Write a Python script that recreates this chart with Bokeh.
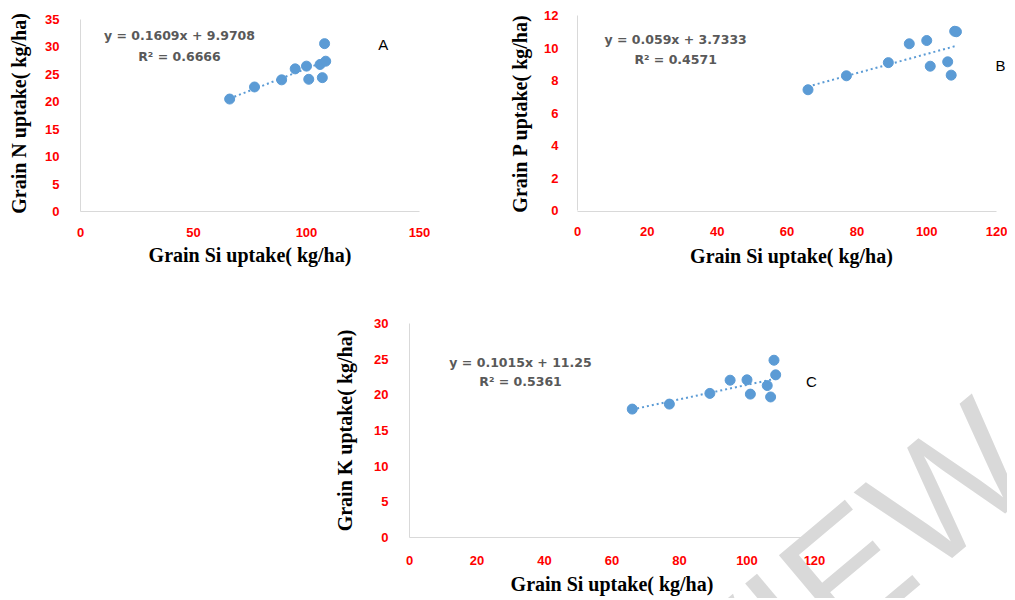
from bokeh.plotting import figure
from bokeh.models import Range1d, FixedTicker, Label
from bokeh.layouts import column, row
from bokeh.embed import file_html
from bokeh.resources import INLINE

# ---------------- data ----------------
si_uptake = [66, 77, 89, 95, 100, 101, 106, 107, 108, 108.5]
n_uptake = [20.5, 22.7, 24.0, 26.0, 26.5, 24.1, 26.8, 24.4, 30.6, 27.4]
p_uptake = [7.43, 8.29, 9.1, 10.26, 10.46, 8.88, 9.15, 8.33, 11.03, 11.0]
k_uptake = [18.0, 18.7, 20.2, 22.05, 22.1, 20.1, 21.3, 19.7, 24.85, 22.8]

trend_slope = [0.1609, 0.059, 0.1015]
trend_intercept = [9.9708, 3.7333, 11.25]
r_squared = ["0.6666", "0.4571", "0.5361"]
panel_letters = ["A", "B", "C"]
y_titles = ["Grain N uptake( kg/ha)", "Grain P uptake( kg/ha)", "Grain K uptake( kg/ha)"]
x_title = "Grain Si uptake( kg/ha)"
x_ticks_a = [0, 50, 100, 150]
x_ticks_bc = [0, 20, 40, 60, 80, 100, 120]
y_ticks_a = [0, 5, 10, 15, 20, 25, 30, 35]
y_ticks_b = [0, 2, 4, 6, 8, 10, 12]
y_ticks_c = [0, 5, 10, 15, 20, 25, 30]

BLUE = "#5b9bd5"


def panel(yvals, idx, xticks, yticks, xr, yr, fw, fh, bl, br, bt, bb,
          eq_xy, r2_xy, letter_xy, xlab_so, xtitle_so, ylab_so, ytitle_so):
    p = figure(frame_width=fw, frame_height=fh,
               min_border_left=bl, min_border_right=br,
               min_border_top=bt, min_border_bottom=bb,
               x_range=Range1d(*xr), y_range=Range1d(*yr),
               output_backend="svg", toolbar_location=None,
               background_fill_color="white", border_fill_color="white")
    p.outline_line_color = None
    p.grid.visible = False
    for ax in (p.xaxis, p.yaxis):
        ax.axis_line_color = "#d9d9d9"
        ax.axis_line_width = 1
        ax.major_tick_line_color = None
        ax.minor_tick_line_color = None
        ax.major_label_text_color = "#ff0000"
        ax.major_label_text_font = "Liberation Sans"
        ax.major_label_text_font_style = "bold"
        ax.major_label_text_font_size = "13px"
        ax.axis_label_text_font = "Liberation Serif"
        ax.axis_label_text_font_style = "bold"
        ax.axis_label_text_font_size = "20px"
        ax.axis_label_text_color = "black"
    p.xaxis.ticker = FixedTicker(ticks=xticks)
    p.yaxis.ticker = FixedTicker(ticks=yticks)
    p.xaxis.bounds = (xticks[0], xticks[-1])
    p.yaxis.bounds = (yticks[0], yticks[-1])
    p.xaxis.major_label_standoff = xlab_so
    p.yaxis.major_label_standoff = ylab_so
    p.xaxis.axis_label = x_title
    p.yaxis.axis_label = y_titles[idx]
    p.xaxis.axis_label_standoff = xtitle_so
    p.yaxis.axis_label_standoff = ytitle_so

    xs = [min(si_uptake), max(si_uptake)]
    ys = [trend_slope[idx] * x + trend_intercept[idx] for x in xs]
    p.line(xs, ys, line_color=BLUE, line_width=2, line_dash="2 3")
    p.scatter(si_uptake, yvals, size=10, fill_color=BLUE, line_color=BLUE)

    eq = f"y = {trend_slope[idx]}x + {trend_intercept[idx]}"
    r2 = f"R\u00b2 = {r_squared[idx]}"
    for txt, (x, y) in ((eq, eq_xy), (r2, r2_xy)):
        p.add_layout(Label(x=x, y=y, text=txt, text_align="center",
                           text_baseline="middle", text_font="DejaVu Sans",
                           text_font_style="bold", text_font_size="12.5px",
                           text_color="#595959"))
    p.add_layout(Label(x=letter_xy[0], y=letter_xy[1], text=panel_letters[idx],
                       text_align="center", text_baseline="middle",
                       text_font="Liberation Sans", text_font_size="15px",
                       text_color="black"))
    return p


pA = panel(n_uptake, 0, x_ticks_a, y_ticks_a, (0, 150), (0, 35.73),
           339, 196, 80, 78, 15, 84,
           (43.8, 32.1), (43.8, 28.3), (134, 30.4), 10, 4, 15, 12)
pB = panel(p_uptake, 1, x_ticks_bc, y_ticks_b, (0, 122.55), (-0.0615, 12),
           428, 196, 80, 2, 15, 84,
           (28.1, 10.52), (28.1, 9.29), (121.1, 8.9), 9, 6, 13, 10)
pC = panel(k_uptake, 2, x_ticks_bc, y_ticks_c, (-23.41, 177.19), (-8.55, 31.82),
           677, 288, 330, 0, 15, 0,
           (32.9, 24.5), (32.9, 21.9), (119.1, 21.9), 12, 5, 15, 15)
pC.xaxis.fixed_location = 0
pC.yaxis.fixed_location = 0

# watermark of the source document
pC.add_layout(Label(x=177.5, y=14.2, text="PREVIEW", angle=40, angle_units="deg",
                    text_align="right", text_baseline="alphabetic",
                    text_font="Liberation Sans", text_font_size="165px",
                    text_color="#d9d9d9"))

layout = column(row(pA, pB), pC)
open("out.html", "w").write(file_html(layout, INLINE))
